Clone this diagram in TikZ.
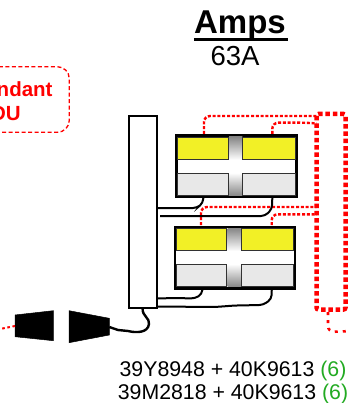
\documentclass[tikz,border=0pt]{standalone}
\usepackage{fontspec}
\setmainfont{Liberation Sans}
\usetikzlibrary{calc}
\definecolor{unityellow}{RGB}{242,240,38}
\definecolor{unitgray}{RGB}{232,232,232}
\definecolor{boxedge}{RGB}{50,50,50}
\definecolor{greensix}{RGB}{34,170,34}
\tikzset{
  reddot/.style={red, line width=2.4pt, dash pattern=on 3pt off 1.8pt, rounded corners=6pt},
  redthick/.style={red, line width=4.5pt, dash pattern=on 4.5pt off 2.8pt},
  cable/.style={black, line width=2pt, rounded corners=4pt},
  plugshape/.style={fill=black, draw=black, line width=0.5pt},
  pdubox/.style={draw=black, line width=1.6pt, fill=white},
  innerbox/.style={draw=boxedge, line width=1pt},
  pics/unit/.style={code={
    \draw[line width=2.6pt, fill=white] (1.3,1.3) rectangle (121.4,62.7);
    \shade[top color=gray!95, bottom color=white] (54,2.6) rectangle (67.4,25.5);
    \shade[top color=white, bottom color=gray!95] (54,38.5) rectangle (67.4,61.4);
    \draw[innerbox, fill=unityellow] (2.6,3) rectangle (53.3,25);
    \draw[innerbox, fill=unityellow] (67.9,3) rectangle (120.2,25);
    \draw[innerbox, fill=unitgray] (2.6,39) rectangle (53.3,60.7);
    \draw[innerbox, fill=unitgray] (67.9,39) rectangle (120.2,60.7);
  }}
}
\begin{document}
\begin{tikzpicture}[x=1pt, y=-1pt]
\useasboundingbox (0,0) rectangle (350,403);
\clip (0,0) rectangle (350,403);

% titles
\node[anchor=base, inner sep=0, font=\bfseries\fontsize{33}{36}\selectfont] (amps) at (240,33.3) {Amps};
\draw[line width=2.5pt] ($(amps.base west)+(0,6.4)$) coordinate (ulA) -- ($(amps.base east)+(1.5,6.4)$) coordinate (ulB);
\node[anchor=base, inner sep=0, font=\fontsize{27.5}{30}\selectfont] (amp) at (235,66) {63A};

% redundant PDU box (cut off)
\draw[red, line width=1.3pt, dash pattern=on 4pt off 2.5pt, rounded corners=12pt] (-60,66.7) rectangle (69.3,132.3);
\node[anchor=base, inner sep=0, text=red, font=\bfseries\fontsize{20.5}{24}\selectfont] (r1) at (-1,96.7) {Redundant};
\node[anchor=base, inner sep=0, text=red, font=\bfseries\fontsize{20.5}{24}\selectfont] (r2) at (-1,120.7) {PDU};

% coordinates
\coordinate (u1a) at (204,134);
\coordinate (u1b) at (272.3,134);
\coordinate (u2a) at (201,225);
\coordinate (u2b) at (271.7,225);
\coordinate (loopA) at (316.5,116);
\coordinate (loopB) at (316.5,123.5);
\coordinate (loopC) at (316.5,207);
\coordinate (loopD) at (316.5,214.3);

% red dotted links (under the units)
\draw[reddot] (u1a) -- (204,116) -- (loopA);
\draw[reddot] (u1b) -- (272.3,122.7) -- (306,122.7) -- (loopB);
\draw[reddot] (u2a) -- (201,207) -- (loopC);
\draw[reddot] (u2b) -- (271.7,214.3) -- (loopD);

% big red loop
\draw[redthick, rounded corners=2pt] (316.5,114) rectangle (345.5,309.5);
\coordinate (tail0) at (328,312);
\coordinate (tail1) at (352,331);
\draw[reddot, line width=2.6pt, dash pattern=on 3pt off 5pt] (tail0) -- (328,332) -- (tail1);

% PDU
\node[pdubox, minimum width=27.7pt, minimum height=192pt, inner sep=0, anchor=north west] (pdu) at (128.3,115) {};

% units
\pic at (175,134.3) {unit};
\pic at (173.5,225.5) {unit};

% black cables
\draw[cable] (203.3,197.5) -- (203,203) -- (197,208) -- (157,208);
\draw[cable] (272.3,197.5) -- (272,209) -- (265,216) -- (160,216);
\draw[cable] (202.5,288.5) -- (202,294) -- (195,298.5) -- (175,298) -- (157,298.5);
\draw[cable] (271.8,288.5) -- (271.5,299) -- (263,305) -- (235,305.5) -- (215,307) -- (157,306.5);

% plugs
\draw[plugshape] (15,315) -- (53.3,310.7) -- (53.3,340.7) -- (15,336.7) -- cycle;
\draw[plugshape] (69,310.7) -- (109.3,318.3) -- (109.3,335) -- (69,342.7) -- cycle;
\coordinate (plugR) at (109.3,327);
\coordinate (plugL) at (15,326);
\draw[black, line width=2.4pt] (pdu.south) ++(-0.3,0) .. controls (142,316) and (150,318) .. (149,324) .. controls (148,333) and (136,333) .. (128,331) -- (118,330) -- (plugR);
\draw[red, line width=2pt, dash pattern=on 2.6pt off 2.6pt] (plugL) -- (0,329);

% part numbers
\node[anchor=base, inner sep=0, font=\fontsize{21.3}{24}\selectfont] (pn1) at (233,376.2) {39Y8948 + 40K9613 \textcolor{greensix}{(6)}};
\node[anchor=base, inner sep=0, font=\fontsize{21.3}{24}\selectfont] (pn2) at (233,399.2) {39M2818 + 40K9613 \textcolor{greensix}{(6)}};
\end{tikzpicture}
\end{document}
